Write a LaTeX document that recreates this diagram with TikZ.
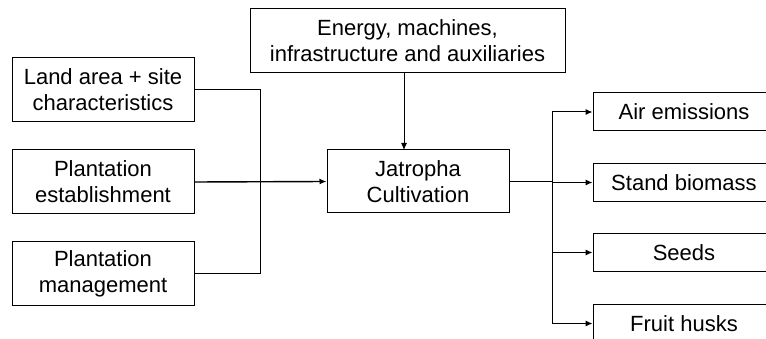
\documentclass[tikz,border=0pt]{standalone}
\usepackage{fontspec}
\setmainfont{Liberation Sans}
\usetikzlibrary{arrows.meta}
\begin{document}
\begin{tikzpicture}[x=1pt,y=-1pt,
  box/.style={draw,line width=1pt,inner sep=0pt,align=center,
    font=\fontsize{22}{26}\selectfont},
  inbox/.style={box,minimum width=182pt,minimum height=64pt},
  outbox/.style={box,minimum width=182pt,minimum height=38pt},
  wire/.style={line width=1pt},
  feed/.style={line width=1.4pt},
  arr/.style={-{Latex[length=7pt,width=6pt]}}]
\useasboundingbox (0,0) rectangle (766,339);
\clip (0,0) rectangle (766,339);
% inputs on the left
\node[inbox] (land) at (103,90) {Land area + site\\characteristics};
\node[inbox] (estab) at (103,182) {Plantation\\establishment};
\node[inbox] (mgmt) at (103,273.5) {Plantation\\management};
% supply box on top
\node[box,minimum width=315pt,minimum height=64pt] (energy) at (407.5,41)
  {Energy, machines,\\infrastructure and auxiliaries};
% central process
\node[inbox,minimum height=63pt] (jat) at (418,181.5) {Jatropha\\Cultivation};
% outputs on the right
\node[outbox] (air) at (684,112) {Air emissions};
\node[outbox] (stand) at (684,182.5) {Stand biomass};
\node[outbox] (seeds) at (684,252.5) {Seeds};
\node[outbox] (husks) at (684,323.5) {Fruit husks};
% collector lines
\coordinate (lbus) at (260,0);
\coordinate (rbus) at (552,0);
\draw[wire] (land.east) -- (land.east -| lbus) -- (mgmt.east -| lbus) -- (mgmt.east);
\draw[feed,arr] (estab.east) -- (jat.west);
\draw[wire,arr] (404,73) -- (404,150);
\draw[feed] (jat.east) -- (jat.east -| rbus);
\draw[wire] (air.west -| rbus) -- (husks.west -| rbus);
\foreach \n in {air,stand,seeds,husks}
  \draw[wire,arr] (\n.west -| rbus) -- (\n.west);
\end{tikzpicture}
\end{document}
